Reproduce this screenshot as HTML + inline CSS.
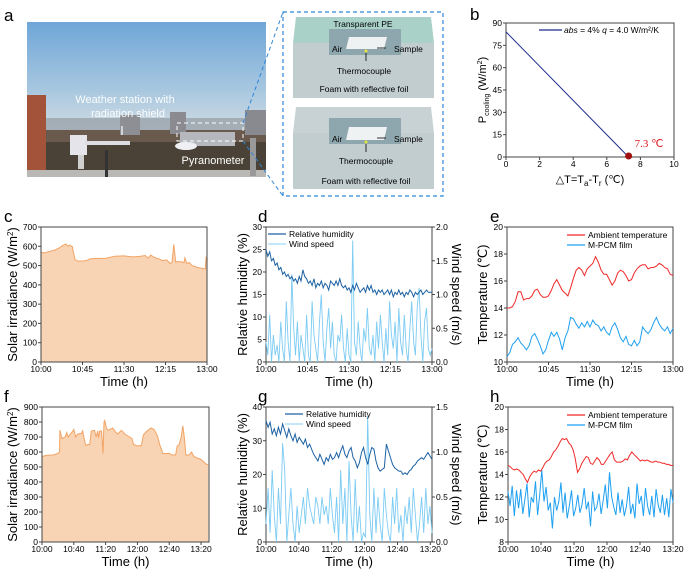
<!DOCTYPE html>
<html><head><meta charset="utf-8">
<style>
html,body{margin:0;padding:0;background:#fff;}
svg{display:block;font-family:"Liberation Sans",sans-serif;}
</style></head>
<body>
<svg id="fig" width="685" height="569" viewBox="0 0 685 569" xmlns="http://www.w3.org/2000/svg">
<defs>
<linearGradient id="sky" x1="0" y1="0" x2="0" y2="1">
<stop offset="0" stop-color="#6fa6d8"/><stop offset="0.45" stop-color="#a9c8e0"/><stop offset="0.75" stop-color="#d8dfe2"/><stop offset="1" stop-color="#c9cfd2"/>
</linearGradient>
</defs>
<g>
<text x="4" y="21" font-size="17">a</text>
<g>
<rect x="27" y="22" width="239" height="155" fill="url(#sky)"/>
<rect x="27" y="118" width="239" height="30" fill="#9aa3ab" opacity="0.8"/>
<rect x="27" y="130" width="239" height="40" fill="#6a5a4e"/>
<rect x="27" y="142" width="239" height="28" fill="#4a4236"/>
<rect x="27" y="95" width="19" height="75" fill="#a4533b"/>
<rect x="120" y="115" width="20" height="20" fill="#8d8f94"/>
<rect x="170" y="112" width="16" height="22" fill="#8a8a90"/>
<rect x="245" y="110" width="21" height="25" fill="#888a90"/>
<rect x="27" y="170" width="239" height="7" fill="#b9b8b4"/>
<rect x="70" y="135" width="17" height="20" fill="#e4e4ea"/>
<rect x="78" y="155" width="6" height="14" fill="#cfcfcf"/>
<rect x="85" y="141" width="45" height="4" fill="#dcdce2"/>
<rect x="105" y="150" width="3" height="27" fill="#333"/>
<rect x="180" y="132" width="55" height="14" fill="#b5b8bc"/>
<ellipse cx="186" cy="146" rx="11" ry="4" fill="#eef0f4"/>
<rect x="250" y="138" width="6" height="38" fill="#999"/>
<rect x="177" y="123" width="66" height="18" fill="none" stroke="#fff" stroke-width="1" stroke-dasharray="4,3"/>
<text x="125" y="103" font-size="11" fill="#fff" text-anchor="middle" opacity="0.95">Weather station with</text>
<text x="128" y="117" font-size="11" fill="#fff" text-anchor="middle" opacity="0.95">radiation shield</text>
<line x1="122" y1="135" x2="122" y2="126" stroke="#fff" stroke-width="1.2"/>
<text x="213" y="164" font-size="11" fill="#fff" text-anchor="middle">Pyranometer</text>
</g>
<line x1="243" y1="123" x2="283" y2="12" stroke="#2f86d8" stroke-width="1" stroke-dasharray="4,3"/>
<line x1="243" y1="141" x2="283" y2="196" stroke="#2f86d8" stroke-width="1" stroke-dasharray="4,3"/>
<rect x="283" y="12" width="160" height="184" fill="#fff" stroke="#2f86d8" stroke-width="1.2" stroke-dasharray="4,3"/>
<g>
<polygon points="296,17 431,17 434,43 293,43" fill="#a9d1c8"/>
<rect x="293" y="43" width="141" height="55" fill="#c2cdd0"/>
<rect x="329" y="29" width="72" height="26" fill="#8ea6ad"/>
<polygon points="349,37 387,37 384,49 346,49" fill="#eef2f2"/>
<circle cx="366" cy="51" r="1.5" fill="#e6e640"/>
<text x="363" y="27" font-size="8.5" text-anchor="middle">Transparent PE</text>
<text x="332" y="52" font-size="8.5">Air</text>
<line x1="377" y1="48" x2="386" y2="48" stroke="#000" stroke-width="0.8"/>
<text x="394" y="52" font-size="8.5">Sample</text>
<line x1="366" y1="53" x2="366" y2="61" stroke="#000" stroke-width="0.8"/>
<text x="364" y="74" font-size="8.5" text-anchor="middle">Thermocouple</text>
<text x="364" y="92" font-size="8.5" text-anchor="middle">Foam with reflective foil</text>
</g>
<g>
<polygon points="296,107 431,107 434,133 293,133" fill="#c8d2d4"/>
<rect x="293" y="133" width="141" height="56" fill="#c2cdd0"/>
<rect x="329" y="118" width="72" height="26" fill="#8ea6ad"/>
<polygon points="349,127 387,127 384,140 346,140" fill="#eef2f2"/>
<circle cx="366" cy="142" r="1.5" fill="#e6e640"/>
<text x="332" y="142" font-size="8.5">Air</text>
<line x1="377" y1="138" x2="386" y2="138" stroke="#000" stroke-width="0.8"/>
<text x="394" y="142" font-size="8.5">Sample</text>
<line x1="366" y1="144" x2="366" y2="152" stroke="#000" stroke-width="0.8"/>
<text x="366" y="164" font-size="8.5" text-anchor="middle">Thermocouple</text>
<text x="366" y="184" font-size="8.5" text-anchor="middle">Foam with reflective foil</text>
</g>
</g>
<g id="charts"></g>
</svg>
<script>
const bX = [0, 7.3];
const bY = [84, 0];
const bXTicks = [0, 2, 4, 6, 8, 10];
const bYTicks = [0, 15, 30, 45, 60, 75, 90];

const cTime = [0,3,8,15,20,24,27,29,31,33,34,35,37,41,48,54,62,70,80,90,100,108,113,116,119,123,128,132,136,140,142,144,146,152,155,156,158,161,164,170,176,178,179,180];
const cSolar = [570,565,572,580,592,605,612,600,606,600,598,570,530,522,525,535,537,537,548,550,545,548,552,538,555,542,535,525,530,512,515,610,520,520,515,540,512,515,500,490,485,482,540,530];
const c3hTicks = [0,45,90,135,180];
const c3hLabels = ['10:00','10:45','11:30','12:15','13:00'];
const cYTicks = [0,100,200,300,400,500,600,700];

const fTime = [0,6,14,20,22,22.5,25,29,31,33,35,39,40,42.5,45,50,51,52.5,55,58,60,62,66,68,70,71,72.5,75,76.7,78,79,81,83,87,89,93,95,100,104,110,113,115,120,125,127.5,131,137,141,145,148,152,156,160,164,168,170,172.5,175,177,179,181,185,188,191,195,200,202.5,206,209];
const fSolar = [570,578,580,590,600,745,690,700,730,700,715,740,750,700,720,725,745,700,645,650,650,740,745,700,740,695,740,740,590,800,810,760,745,755,760,730,720,745,720,700,690,650,640,645,715,735,760,750,710,650,590,590,590,580,580,640,650,700,775,700,580,580,600,570,560,550,540,520,515];
const f200Ticks = [0,40,80,120,160,200];
const f200Labels = ['10:00','10:40','11:20','12:00','12:40','13:20'];
const fYTicks = [0,100,200,300,400,500,600,700,800,900];

const dRH = [25,23.5,24.5,22.5,23,21.5,22,20.5,21,19.5,20,19,19.5,18.5,19,18,18.5,17.5,19,18,20.5,19,18.5,17.5,18,17,18.5,16.5,17.5,17,18,16.5,17.5,17,16,18,17.5,17,18,17,18.5,17,16.5,17,16,16.5,15.5,17,16,17.5,16.5,15.5,16,16.5,15.5,17,16,17,15.5,16,15,16,15.5,16,15,15.5,16,15,16,14.5,15.5,15,16,15,15.5,14.5,15.5,15,16,15.5,14.5,15.5,15,15.5,16,15,15.5,16,15.5,15.5,15.5];
const dWind = [0.3,0.1,0.7,0,0.4,0.1,0.25,0,0.6,0.2,0,0.9,0.3,0,1.3,0.5,0.1,0.6,0,0.4,0.2,0,0.7,0.1,0,0.9,0.4,0.2,0,0.6,1.0,0.3,0,0.5,0.8,0.2,0.6,0.1,0,0.4,0.3,0.7,0.2,0,0.5,0.1,0,1.8,0.3,0.1,0.6,0.2,0,0.5,0.3,0.8,0.2,0.1,0.4,0,0.6,0.2,0.7,0.3,0,0.5,0.1,0.9,0.4,0.2,0.6,0,0.8,0.3,0.1,0.7,0.2,0,0.5,0.9,0.3,0.1,0.8,1.1,0.4,0,0.6,0.8,0.2,0.1,0.2];
const dRHTicks = [0,5,10,15,20,25,30];
const dWindTicks = [0,0.5,1.0,1.5,2.0];

const eAmb = [14,14,14.1,14.5,15.2,15.2,14.6,14.7,14.7,14.9,15.3,15.4,15,14.8,14.8,14.9,15.3,15.8,16.1,15.7,15.3,15.1,14.9,15.5,16.2,16.8,17,16.8,16.4,16.9,17.1,17.3,17.8,17.4,16.8,16.5,16.5,16.1,15.7,16,16.6,16.8,16.7,16.4,16,16.1,16.6,16.9,17.1,17.2,17.2,16.9,17,17,17.1,17.3,17.2,17,16.9,16.5,16.4];
const ePCM = [10.4,10.7,11.3,11.5,11.8,11.4,11.2,10.9,11.2,11.9,12.1,11.7,11.2,10.6,10.9,11.6,12.2,11.9,12.2,11.7,10.9,11.8,12.3,13.3,13.2,12.8,12.5,12.9,12.6,13,12.6,13.1,12.8,12.7,12.3,12.6,12.2,12,12.6,12.9,12.4,11.8,11.5,11.9,11.3,11.2,11.6,11.2,11.5,12.6,12.3,12.1,12.4,12.9,13.3,12.8,12.5,12.3,12.6,12.1,12.5];
const eYTicks = [10,12,14,16,18,20];

const gRH = [36,34,35.5,32,33.5,31.5,34,32,35,33,31,33.5,31.5,30,32,29.5,31,30,29,30.5,28,29,27.5,26,25,24,26,24.5,23,25,24,26,24.5,25,26.5,25,27,28.5,26,25,27,28,25,24,22,23.5,26.5,28,25,23,26,28,27.5,24,22,21,21.5,22,29,27,25,23,22,21.5,21,21,20,20.5,20,21,21.5,22.5,23,24,24.5,25,24.5,25.5,26.5,25.5,24.5];
const gWind = [0.2,0.6,0.1,0.8,0.3,0,0.6,0.2,1.1,0.8,0,0.3,0.6,0.2,0,0.4,0.1,0.3,0.5,0.2,0.6,0.4,0.3,0.2,0.5,0.4,0.2,0.5,0.3,0.4,0.2,0.6,0.3,0.1,0.5,0,0.8,0.2,0.6,0,0.9,0.3,0,0.7,0.1,0.4,0,0.1,0.05,1.4,0.3,0,0.6,0.1,0.5,0.2,0,0.6,0.3,0.1,0,0.5,0.2,0.6,0.1,0.3,0,0.4,0.2,0.5,0.1,0.6,0.3,0,0.2,0.5,0.1,0.6,0.2,0.4,0.1];
const gRHTicks = [0,10,20,30,40];
const gWindTicks = [0,0.5,1.0,1.5];

const hAmb = [14.8,14.7,14.5,14.4,14.5,14.4,14.2,14,13.6,13.3,13.8,14.1,14.3,14.2,14.4,14.3,14.6,15,15.2,15.3,15.6,16,16.2,16.5,16.9,17.2,17.1,17.2,16.8,16.6,16.2,15.4,14.2,14.5,15,15.3,15.6,15.5,15,14.9,15.2,15.5,15.3,14.9,14.9,15.2,15.5,15.8,16,15.3,15.1,15.1,15.1,15.2,15.4,15.3,15.7,16,15.8,15.6,15.4,15.2,15.3,15.2,15.3,15.2,15.1,15.1,15.2,15.1,15.1,15,15,14.9,14.9,14.8,14.8];
const hPCM = [12.5,11.2,13,10.3,12.6,11,12.7,10.5,11.8,13.2,10.2,12,11.5,13.4,10.4,12.2,14.4,11.6,12.9,10.8,11.5,9.2,12,10.8,11.6,13.3,10.6,12.4,10.1,11.2,12.6,10.3,11,12.2,10.6,11.3,12.8,10.9,11.6,9.4,12.5,10.8,11.1,12.3,10.5,11.7,13.1,11,14.2,12,11.1,10.4,12.4,10.6,11.8,10.3,11.2,12.9,10.5,11.4,10.1,13.2,11.4,12.1,10.3,12.8,11.2,10.4,12.1,10.2,12.7,11.3,10.6,12.2,10.4,11.9,10.2,12.7,11.5];
const hYTicks = [8,10,12,14,16,18,20];

const NS = 'http://www.w3.org/2000/svg';
const root = document.getElementById('charts');
function mk(tag, attrs, parent) {
  const e = document.createElementNS(NS, tag);
  for (const k in attrs) e.setAttribute(k, attrs[k]);
  (parent || root).appendChild(e);
  return e;
}
function scale(d0, d1, r0, r1) { return v => r0 + (v - d0) / (d1 - d0) * (r1 - r0); }
function txt(x, y, s, size, anchor, parent, extra) {
  const t = mk('text', Object.assign({x: x, y: y, 'font-size': size, 'text-anchor': anchor || 'middle'}, extra || {}), parent);
  t.textContent = s;
  return t;
}
function pathFrom(xs, ys, sx, sy) {
  let d = '';
  for (let i = 0; i < xs.length; i++) d += (i ? 'L' : 'M') + sx(xs[i]).toFixed(1) + ',' + sy(ys[i]).toFixed(1);
  return d;
}
function uniformTimes(n, end) { const t = []; for (let i = 0; i < n; i++) t.push(i * end / (n - 1)); return t; }

function frame(name, L, R, T, B, sx, sy, xt, xl, yt, ylFmt) {
  const g = mk('g', {});
  
  
  const box = mk('rect', {x: L, y: T, width: R - L, height: B - T, fill: 'none', stroke: '#444', 'stroke-width': 1}, g);
  
  
  for (let i = 0; i < xt.length; i++) {
    const x = sx(xt[i]);
    mk('line', {x1: x, y1: B, x2: x, y2: B + 3, stroke: '#444'}, g);
    const t = txt(x, B + 10, xl[i], 8.5, 'middle', g);
    
    
  }
  for (let i = 0; i < yt.length; i++) {
    const y = sy(yt[i]);
    mk('line', {x1: L - 3, y1: y, x2: L, y2: y, stroke: '#444'}, g);
    const t = txt(L - 4, y + 3, ylFmt ? ylFmt(yt[i]) : String(yt[i]), 8.5, 'end', g);
    
    
  }
  return g;
}
function rightAxis(g, R, sy, ticks) {
  for (let i = 0; i < ticks.length; i++) {
    const y = sy(ticks[i]);
    mk('line', {x1: R, y1: y, x2: R + 3, y2: y, stroke: '#444'}, g);
    const t = txt(R + 4, y + 3, ticks[i].toFixed(1), 8.5, 'start', g);
    
    
  }
}
function ytitle(x, y, s, g, rot) {
  return txt(x, y, s, 13, 'middle', g, {transform: 'rotate(' + (rot || -90) + ' ' + x + ' ' + y + ')'});
}
function legendEntry(g, x1, x2, y, color, label) {
  const l = mk('line', {x1: x1, y1: y, x2: x2, y2: y, stroke: color, 'stroke-width': 1.2}, g);
  
  
  const t = txt(x2 + 3, y + 3, label, 8.5, 'start', g);
  
  
}
function letter(x, y, s) {
  const t = txt(x, y, s, 17, 'start');
  
  
}

(function () {
  const L = 506, R = 674, T = 23, B = 157;
  const sx = scale(0, 10, L, R), sy = scale(0, 90, B, T);
  const g = frame('panel-b-chart', L, R, T, B, sx, sy, bXTicks, bXTicks.map(String), bYTicks);
  const line = mk('path', {d: pathFrom(bX, bY, sx, sy), stroke: '#1c2a8c', 'stroke-width': 1, fill: 'none'}, g);
  
  
  const dot = mk('circle', {cx: sx(bX[1]), cy: sy(bY[1]) - 1, r: 3.5, fill: '#a01010'}, g);
  
  
  const ann = txt(sx(bX[1]) + 6, sy(bY[1]) - 10, '7.3 ℃', 11, 'start', g, {fill: '#e0161b', 'font-family': '"Liberation Serif",serif'});
  
  
  const ll = mk('line', {x1: 539, y1: 30, x2: 562, y2: 30, stroke: '#1c2a8c', 'stroke-width': 1.2}, g);
  
  
  const lt = mk('text', {x: 564, y: 33, 'font-size': 8.5}, g);
  lt.innerHTML = '<tspan font-style="italic">abs</tspan> = 4%  <tspan font-style="italic">q</tspan> = 4.0 W/m²/K';
  
  
  const xt = mk('text', {x: 590, y: 183, 'font-size': 11, 'text-anchor': 'middle'}, g);
  xt.innerHTML = '△T=T<tspan font-size="8" dy="3">a</tspan><tspan dy="-3">-T</tspan><tspan font-size="8" dy="3">r</tspan><tspan dy="-3"> (℃)</tspan>';
  
  
  const yt = mk('text', {x: 486, y: 90, 'font-size': 11, 'text-anchor': 'middle', transform: 'rotate(-90 486 90)'}, g);
  yt.innerHTML = 'P<tspan font-size="7" dy="3">cooling</tspan><tspan dy="-3"> (W/m</tspan><tspan font-size="7" dy="-4">2</tspan><tspan dy="4">)</tspan>';
  
  
  letter(470, 20, 'b');
})();

function solar(name, L, R, T, B, xmax, ymax, times, vals, xt, xl, yt) {
  const sx = scale(0, xmax, L, R), sy = scale(0, ymax, B, T);
  const g = frame(name, L, R, T, B, sx, sy, xt, xl, yt);
  const d = pathFrom(times, vals, sx, sy);
  const area = mk('path', {d: d + 'L' + sx(times[times.length - 1]).toFixed(1) + ',' + B + 'L' + sx(times[0]).toFixed(1) + ',' + B + 'Z', fill: '#f9d4b4', stroke: 'none'}, g);
  
  
  const ln = mk('path', {d: d, fill: 'none', stroke: '#f2a364', 'stroke-width': 1}, g);
  
  
  g.appendChild(g.firstChild);
  const yT = mk('text', {x: 17, y: (T + B) / 2, 'font-size': 13, 'text-anchor': 'middle', transform: 'rotate(-90 17 ' + (T + B) / 2 + ')'}, g);
  yT.innerHTML = 'Solar  irradiance (W/m<tspan font-size="8" dy="-4">2</tspan><tspan dy="4">)</tspan>';
  
  
  const xT = txt((L + R) / 2, B + 24, 'Time (h)', 13, 'middle', g);
  
  
}
solar('panel-c-chart', 41, 207, 227, 362, 180, 700, cTime, cSolar, c3hTicks, c3hLabels, cYTicks);
letter(4, 222, 'c');
solar('panel-f-chart', 42, 209, 407, 542, 210, 900, fTime, fSolar, f200Ticks, f200Labels, fYTicks);
letter(4, 402, 'f');

function humid(name, L, R, T, B, xmax, rhMax, wMax, rh, wind, xt, xl, rt, wt, legY, legX) {
  const sx = scale(0, xmax, L, R), sy = scale(0, rhMax, B, T), sw = scale(0, wMax, B, T);
  const g = frame(name, L, R, T, B, sx, sy, xt, xl, rt);
  rightAxis(g, R, sw, wt);
  const tw = uniformTimes(wind.length, xmax);
  const wl = mk('path', {d: pathFrom(tw, wind, sx, sw), fill: 'none', stroke: '#7ccbf3', 'stroke-width': 0.9}, g);
  
  
  const tr = uniformTimes(rh.length, xmax);
  const rl = mk('path', {d: pathFrom(tr, rh, sx, sy), fill: 'none', stroke: '#1d62a4', 'stroke-width': 1}, g);
  
  
  legendEntry(g, legX, legX + 18, legY, '#1d62a4', 'Relative humidity');
  legendEntry(g, legX, legX + 18, legY + 10, '#9fdbf8', 'Wind speed');
  const yT = ytitle(247, (T + B) / 2, 'Relative humidity (%)', g);
  
  
  const y2 = ytitle(452, (T + B) / 2, 'Wind  speed (m/s)', g, 90);
  
  
  const xT = txt((L + R) / 2, B + 24, 'Time (h)', 13, 'middle', g);
  
  
}
humid('panel-d-chart', 266, 432, 227, 362, 180, 30, 2, dRH, dWind, c3hTicks, c3hLabels, dRHTicks, dWindTicks, 234, 268);
letter(258, 222, 'd');
humid('panel-g-chart', 266, 432, 407, 542, 202, 40, 1.5, gRH, gWind, f200Ticks, f200Labels, gRHTicks, gWindTicks, 414, 285);
letter(258, 402, 'g');

function temps(name, L, R, T, B, xmax, y0, y1, amb, pcm, xt, xl, yt) {
  const sx = scale(0, xmax, L, R), sy = scale(y0, y1, B, T);
  const g = frame(name, L, R, T, B, sx, sy, xt, xl, yt);
  const pl = mk('path', {d: pathFrom(uniformTimes(pcm.length, xmax), pcm, sx, sy), fill: 'none', stroke: '#1fa0f0', 'stroke-width': 1}, g);
  
  
  const al = mk('path', {d: pathFrom(uniformTimes(amb.length, xmax), amb, sx, sy), fill: 'none', stroke: '#f02828', 'stroke-width': 1}, g);
  
  
  legendEntry(g, 567, 585, T + 8, '#f02828', 'Ambient temperature');
  legendEntry(g, 567, 585, T + 18, '#1fa0f0', 'M-PCM film');
  const yT = ytitle(487, (T + B) / 2, 'Temperature  (℃)', g);
  
  
  const xT = txt((L + R) / 2, B + 24, 'Time (h)', 13, 'middle', g);
  
  
}
temps('panel-e-chart', 507, 673, 227, 362, 180, 10, 20, eAmb, ePCM, c3hTicks, c3hLabels, eYTicks);
letter(490, 222, 'e');
temps('panel-h-chart', 508, 673, 407, 542, 200, 8, 20, hAmb, hPCM, f200Ticks, f200Labels, hYTicks);
letter(490, 402, 'h');
</script>
</body></html>
